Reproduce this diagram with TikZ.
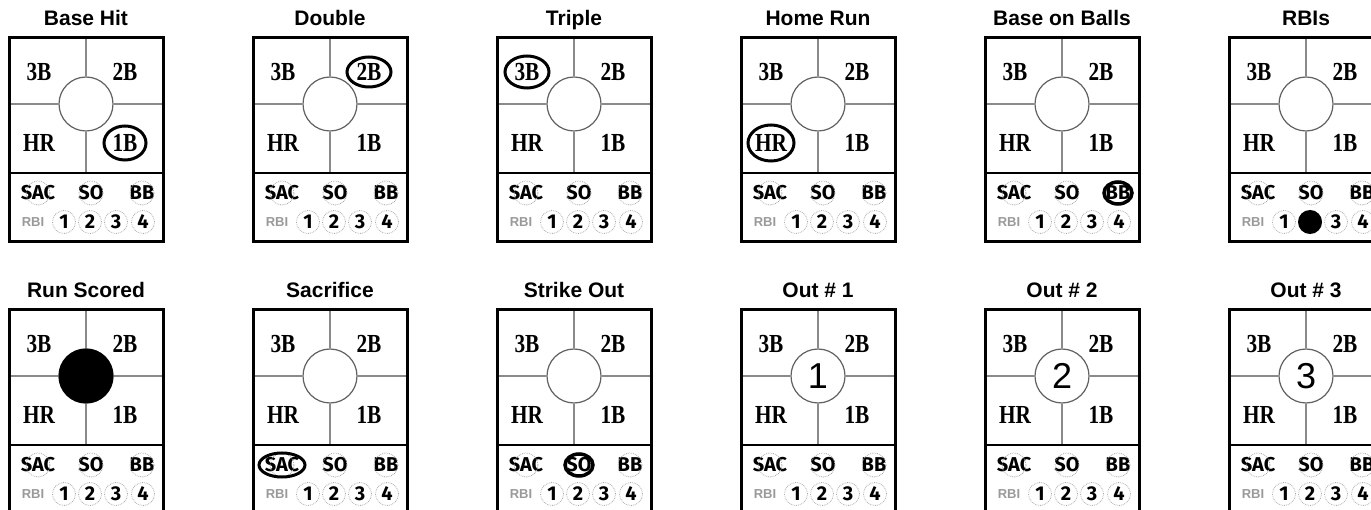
\documentclass[tikz,border=0pt]{standalone}
\usepackage{fontspec}
\usepackage{xcolor}
\usepackage{tikz}
\usetikzlibrary{positioning}
\setmainfont{Liberation Serif}
\newfontfamily\headfont{Liberation Sans}
\newfontfamily\basefont{Liberation Serif}[FakeStretch=0.82]
\newfontfamily\slotfont{Fira Sans}
\newfontfamily\handfont{Liberation Sans}
\definecolor{gridgray}{HTML}{8A8A8A}
\definecolor{halogray}{HTML}{ABABAB}
\definecolor{rbigray}{HTML}{9A9A9A}

\begin{document}
\begin{tikzpicture}[x=1pt, y=-1pt,
  card/.style={draw, line width=3pt, minimum width=154pt, minimum height=204pt, inner sep=0pt},
  title/.style={font=\headfont\bfseries\fontsize{21}{22}\selectfont, anchor=base},
  baselbl/.style={font=\basefont\bfseries\fontsize{26}{26}\selectfont, inner sep=0pt},
  slot/.style={font=\slotfont\bfseries\fontsize{20}{20}\selectfont, inner sep=0pt},
  digit/.style={slot, circle, draw=halogray, densely dotted, line width=0.8pt, minimum size=23pt},
  rbilbl/.style={font=\headfont\bfseries\fontsize{13}{13}\selectfont, text=rbigray, inner sep=0pt},
  ctr/.style={circle, draw=gridgray!70!black, line width=1.2pt, minimum size=54pt, inner sep=0pt},
  gridline/.style={draw=gridgray, line width=1.2pt},
  divider/.style={draw, line width=2.5pt},
  halo/.style={draw=halogray, densely dotted, line width=0.8pt},
  ring/.style={draw, line width=3pt},
  hand/.style={font=\handfont\fontsize{36}{36}\selectfont, inner sep=0pt},
]
  \fill[white] (0,0) rectangle (1371,510);
  \useasboundingbox (0,0) rectangle (1371,510);
  \clip (0,0) rectangle (1371,510);

  \foreach \X/\Y/\t/\n in {9/38/Base Hit/hit, 253/38/Double/dbl, 497/38/Triple/tpl,
      741/38/Home Run/hr, 985/38/Base on Balls/bob, 1229/38/RBIs/rbis,
      9/310/Run Scored/run, 253/310/Sacrifice/sac, 497/310/Strike Out/so,
      741/310/Out \# 1/outa, 985/310/Out \# 2/outb, 1229/310/Out \# 3/outc} {
    \node[title] (\n-title) at ({\X+77},{\Y-12}) {\t};
    \coordinate (\n-top) at ({\X+77},\Y);
    \coordinate (\n-mid-w) at (\X,{\Y+66});
    \coordinate (\n-mid-e) at ({\X+154},{\Y+66});
    \coordinate (\n-div-w) at (\X,{\Y+135});
    \coordinate (\n-div-m) at ({\X+77},{\Y+135});
    \coordinate (\n-div-e) at ({\X+154},{\Y+135});
    \node[ctr] (\n-ctr) at ({\X+77},{\Y+66}) {};
    \draw[gridline] (\n-top) -- (\n-ctr.north);
    \draw[gridline] (\n-ctr.south) -- (\n-div-m);
    \draw[gridline] (\n-mid-w) -- (\n-ctr.west);
    \draw[gridline] (\n-ctr.east) -- (\n-mid-e);
    \draw[divider] (\n-div-w) -- (\n-div-e);
    \node[card] (\n-box) at ({\X+77},{\Y+102}) {};
    \node[baselbl] (\n-3B) at ({\X+30},{\Y+34}) {3B};
    \node[baselbl] (\n-2B) at ({\X+116},{\Y+34}) {2B};
    \node[baselbl] (\n-HR) at ({\X+30},{\Y+105}) {HR};
    \node[baselbl] (\n-1B) at ({\X+116},{\Y+105}) {1B};
    \node[slot] (\n-SAC) at ({\X+29},{\Y+155}) {SAC};
    \node[slot] (\n-SO) at ({\X+82},{\Y+155}) {SO};
    \node[slot] (\n-BB) at ({\X+133},{\Y+155}) {BB};
    \draw[halo] (\n-SAC) circle (12);
    \draw[halo] (\n-SO) circle (12);
    \draw[halo] (\n-BB) circle (12);
    \node[rbilbl] (\n-rbi) at ({\X+24},{\Y+184}) {RBI};
    \foreach \d/\dx in {1/55, 2/81, 3/107, 4/134}
      \node[digit] (\n-r\d) at ({\X+\dx},{\Y+184}) {\d};
  }

  \draw[ring] (hit-1B) ellipse [x radius=21, y radius=17];
  \draw[ring] (dbl-2B) ellipse [x radius=22, y radius=15];
  \draw[ring] (tpl-3B) ellipse [x radius=22, y radius=16];
  \draw[ring] (hr-HR) ellipse [x radius=23, y radius=18];
  \draw[ring, line width=3.5pt] (bob-BB) ellipse [x radius=14, y radius=11];
  \fill (rbis-r2) circle (12);

  \fill (run-ctr) circle (27.5);
  \draw[ring] (sac-SAC) ellipse [x radius=23, y radius=12];
  \draw[ring, line width=3.5pt] (so-SO) ellipse [x radius=14, y radius=11];
  \node[hand] (outa-mark) at (outa-ctr) {1};
  \node[hand] (outb-mark) at (outb-ctr) {2};
  \node[hand] (outc-mark) at (outc-ctr) {3};
\end{tikzpicture}
\end{document}
